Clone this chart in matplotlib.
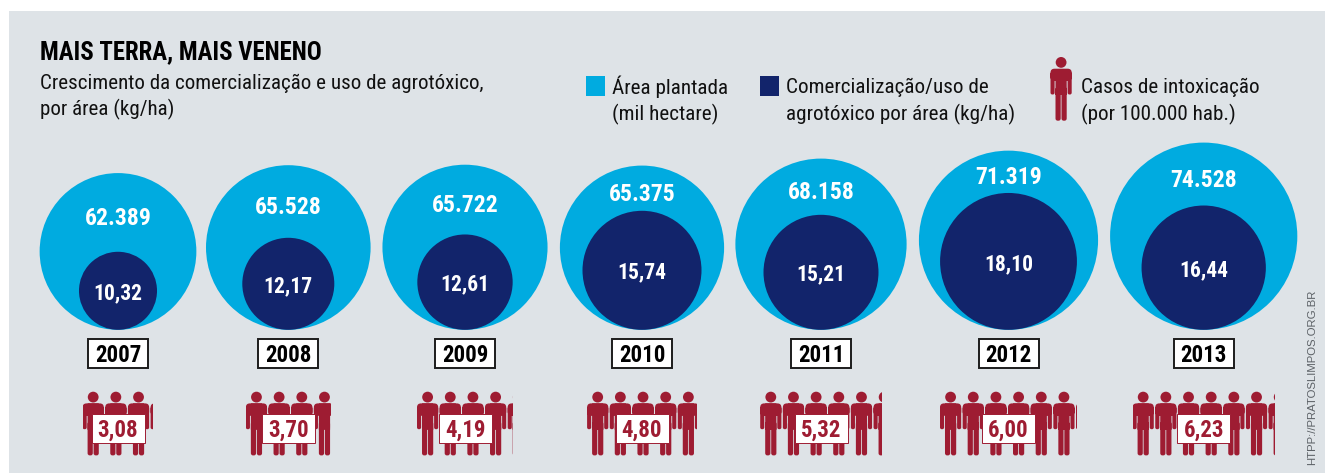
import matplotlib
matplotlib.use('Agg')
import matplotlib.pyplot as plt
from matplotlib import font_manager as fm
from matplotlib.patches import Circle, Rectangle, PathPatch
from matplotlib.path import Path
from matplotlib.transforms import Affine2D

# ---- data ----
years = ['2007', '2008', '2009', '2010', '2011', '2012', '2013']
area_mil_ha = [62389, 65528, 65722, 65375, 68158, 71319, 74528]
agrotoxico_kg_ha = [10.32, 12.17, 12.61, 15.74, 15.21, 18.10, 16.44]
casos_intox = [3.08, 3.70, 4.19, 4.80, 5.32, 6.00, 6.23]

title = 'MAIS TERRA, MAIS VENENO'
subtitle = 'Crescimento da comercialização e uso de agrotóxico,\npor área (kg/ha)'
legend_area = 'Área plantada\n(mil hectare)'
legend_agro = 'Comercialização/uso de\nagrotóxico por área (kg/ha)'
legend_casos = 'Casos de intoxicação\n(por 100.000 hab.)'
source = 'HTPP://PRATOSLIMPOS.ORG.BR'

# ---- layout and style ----
W, H = 1325, 473
column_x = [118, 288.3, 465, 642, 821, 1008.5, 1203.7]
AREA_SCALE = 0.001256      # px of radius per thousand hectares
AGRO_SCALE = 3.78          # px of radius per kg/ha
BASE_Y = 329.8
PERSON_PITCH = 22.67
PERSON_TOP = 391.7
BG, BLUE, NAVY, RED = '#DEE3E7', '#00ABE0', '#12246B', '#9E1C32'

installed = {f.name for f in fm.fontManager.ttflist}
def pick(*names):
    for n in names:
        if n in installed:
            return n
    return 'DejaVu Sans'
COND = pick('Roboto Condensed', 'Archivo Narrow', 'Fira Sans Condensed', 'Liberation Sans Narrow', 'Roboto')


def fmt_area(v):
    return f'{v:,}'.replace(',', '.')


def fmt_dec(v):
    return f'{v:.2f}'.replace('.', ',')


def rrect(x0, y0, x1, y1, r):
    verts = [(x0 + r, y0), (x1 - r, y0), (x1, y0), (x1, y0 + r), (x1, y1 - r), (x1, y1),
             (x1 - r, y1), (x0 + r, y1), (x0, y1), (x0, y1 - r), (x0, y0 + r), (x0, y0), (x0 + r, y0)]
    codes = [Path.MOVETO, Path.LINETO, Path.CURVE3, Path.CURVE3, Path.LINETO, Path.CURVE3, Path.CURVE3,
             Path.LINETO, Path.CURVE3, Path.CURVE3, Path.LINETO, Path.CURVE3, Path.CURVE3]
    return Path(verts, codes)


PERSON = Path.make_compound_path(
    Path.circle((10.6, 5.4), 5.4),
    rrect(0, 11.7, 21.2, 24, 4),          # shoulders
    rrect(0, 15, 4.1, 37.5, 1.8),         # left arm
    rrect(17.1, 15, 21.2, 37.5, 1.8),     # right arm
    rrect(5, 12, 16.2, 38, 0.1),          # torso
    rrect(5, 30, 10.2, 63.7, 2.2),        # left leg
    rrect(11, 30, 16.2, 63.7, 2.2),       # right leg
)


def person(ax, x, y, clip=None):
    p = PathPatch(PERSON, facecolor=RED, edgecolor='none', lw=0, zorder=3,
                  transform=Affine2D().translate(x, y) + ax.transData)
    ax.add_patch(p)
    if clip is not None:
        p.set_clip_path(clip)
    return p


fig = plt.figure(figsize=(W / 100, H / 100), dpi=100, facecolor='white')
ax = fig.add_axes([0, 0, 1, 1])
ax.set_xlim(0, W)
ax.set_ylim(H, 0)
ax.axis('off')
ax.add_patch(Rectangle((9, 11), W - 9, H - 11, facecolor=BG, edgecolor='none', zorder=0))

# header
ax.text(40, 52.5, title, family=COND, weight='bold', fontsize=17.8, color='black', va='center', ha='left')
ax.text(40, 83.5, subtitle.split('\n')[0], family=COND, fontsize=15.1, color='#111111', va='center')
ax.text(40, 109, subtitle.split('\n')[1], family=COND, fontsize=15.1, color='#111111', va='center')

# legend
ax.add_patch(Rectangle((586, 76), 19, 20, facecolor=BLUE, edgecolor='none'))
ax.add_patch(Rectangle((760, 76), 19, 20, facecolor=NAVY, edgecolor='none'))
person(ax, 1050.5, 57)
for x, txt in [(612, legend_area), (786, legend_agro), (1081, legend_casos)]:
    a, b = txt.split('\n')
    ax.text(x, 87, a, family=COND, fontsize=15.2, color='#111111', va='center')
    ax.text(x, 114, b, family=COND, fontsize=15.2, color='#111111', va='center')

# circles, labels, year boxes, people
for cx, year, area, agro, casos in zip(column_x, years, area_mil_ha, agrotoxico_kg_ha, casos_intox):
    R = area * AREA_SCALE
    r = agro * AGRO_SCALE
    ax.add_patch(Circle((cx, BASE_Y - R), R, facecolor=BLUE, edgecolor='none', zorder=1))
    ax.add_patch(Circle((cx, BASE_Y - r), r, facecolor=NAVY, edgecolor='none', zorder=2))
    outer_y = (BASE_Y - 2 * R + BASE_Y - 2 * r) / 2 + 3.5
    ax.text(cx, outer_y, fmt_area(area), family=COND, weight='bold', fontsize=17, color='white',
            ha='center', va='center_baseline', zorder=4)
    ax.text(cx, BASE_Y - r, fmt_dec(agro), family=COND, weight='bold', fontsize=15.5, color='white',
            ha='center', va='center_baseline', zorder=4)
    ax.add_patch(Rectangle((cx - 30, 338.5), 60, 29, facecolor='white', edgecolor='#1c1c1c', lw=1.4, zorder=2))
    ax.text(cx, 353, year, family=COND, weight='bold', fontsize=16.5, color='black',
            ha='center', va='center_baseline', zorder=4)

    width = casos * PERSON_PITCH + 1
    left = cx - width / 2
    clip = Rectangle((left, PERSON_TOP - 1), width, 66, transform=ax.transData)
    n = int(casos) + 1
    for i in range(n):
        person(ax, left + i * PERSON_PITCH, PERSON_TOP, clip)
    ax.add_patch(Rectangle((cx - 26.5, 413.5), 53, 29.5, facecolor='white', edgecolor=RED, lw=0.7, zorder=5))
    ax.text(cx, 428, fmt_dec(casos), family=COND, weight='bold', fontsize=16.5, color=RED,
            ha='center', va='center_baseline', zorder=6)

ax.text(1312, 377.5, source, family='Liberation Sans', fontsize=8.2, color='#5c6166', rotation=90,
        ha='center', va='center')

fig.savefig('out.png', dpi=100, facecolor='white')
